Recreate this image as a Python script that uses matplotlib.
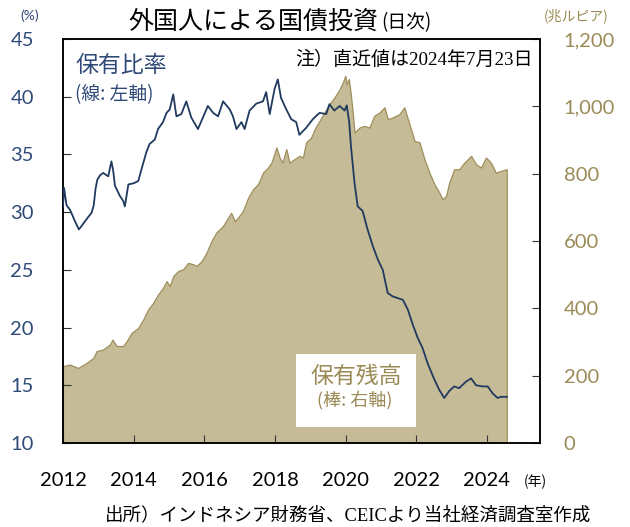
import matplotlib
matplotlib.use("Agg")
import matplotlib.pyplot as plt
from matplotlib.patches import Rectangle

# Foreign holdings of Indonesian government bonds (daily)
# Share of foreign holdings, % (left axis)
ratio_year = [2012.00, 2012.03, 2012.10, 2012.20, 2012.34, 2012.45, 2012.50, 2012.62,
              2012.72, 2012.81, 2012.87, 2012.92, 2012.97, 2013.05, 2013.14, 2013.28,
              2013.37, 2013.42, 2013.47, 2013.61, 2013.70, 2013.75, 2013.85, 2014.00,
              2014.13, 2014.22, 2014.36, 2014.45, 2014.60, 2014.69, 2014.83, 2014.93,
              2015.02, 2015.12, 2015.21, 2015.35, 2015.49, 2015.63, 2015.82, 2015.96,
              2016.10, 2016.25, 2016.39, 2016.53, 2016.72, 2016.81, 2016.91, 2017.05,
              2017.14, 2017.28, 2017.47, 2017.66, 2017.75, 2017.85, 2017.99, 2018.08,
              2018.17, 2018.32, 2018.46, 2018.60, 2018.69, 2018.88, 2019.07, 2019.26,
              2019.45, 2019.54, 2019.68, 2019.83, 2019.97, 2020.03, 2020.10, 2020.15,
              2020.25, 2020.34, 2020.48, 2020.62, 2020.77, 2020.91, 2021.05, 2021.19,
              2021.33, 2021.62, 2021.76, 2021.90, 2022.04, 2022.18, 2022.32, 2022.51,
              2022.65, 2022.79, 2022.93, 2023.07, 2023.21, 2023.40, 2023.55, 2023.69,
              2023.88, 2024.02, 2024.16, 2024.30, 2024.39, 2024.56]
ratio_pct = [30.5, 32.1, 30.6, 30.2, 29.2, 28.5, 28.7, 29.2,
             29.6, 29.95, 30.6, 32.0, 32.8, 33.2, 33.4, 33.1,
             34.4, 33.6, 32.3, 31.4, 31.0, 30.5, 32.4, 32.5,
             32.7, 33.7, 35.2, 35.9, 36.3, 37.2, 37.8, 38.6,
             38.9, 40.2, 38.3, 38.5, 39.6, 38.2, 37.2, 38.2,
             39.2, 38.6, 38.3, 39.6, 38.9, 38.3, 37.2, 37.8,
             37.2, 38.8, 39.4, 39.6, 40.4, 38.5, 40.7, 41.5,
             39.9, 38.9, 38.05, 37.8, 36.7, 37.3, 38.05, 38.6,
             38.5, 39.35, 38.8, 39.2, 38.8, 39.25, 37.8, 35.7,
             32.55, 30.5, 30.1, 28.5, 27.05, 25.9, 25.0, 23.0,
             22.7, 22.4, 21.55, 20.25, 19.1, 18.2, 16.9, 15.5,
             14.6, 13.9, 14.5, 14.9, 14.75, 15.3, 15.6, 15.0,
             14.9, 14.9, 14.3, 13.9, 14.0, 14.0]

# Outstanding foreign holdings, trillion rupiah (right axis)
hold_year = [2012.00, 2012.19, 2012.43, 2012.67, 2012.86, 2012.95, 2013.14, 2013.33,
             2013.40, 2013.52, 2013.70, 2013.80, 2013.94, 2014.13, 2014.27, 2014.41,
             2014.55, 2014.69, 2014.83, 2014.93, 2015.02, 2015.12, 2015.26, 2015.40,
             2015.54, 2015.68, 2015.78, 2015.92, 2016.06, 2016.20, 2016.34, 2016.53,
             2016.67, 2016.76, 2016.86, 2016.95, 2017.09, 2017.24, 2017.38, 2017.52,
             2017.66, 2017.80, 2017.90, 2018.04, 2018.13, 2018.21, 2018.32, 2018.41,
             2018.55, 2018.69, 2018.79, 2018.88, 2019.02, 2019.12, 2019.26, 2019.40,
             2019.54, 2019.68, 2019.83, 2019.92, 2019.99, 2020.03, 2020.09, 2020.15,
             2020.20, 2020.25, 2020.39, 2020.53, 2020.67, 2020.81, 2020.96, 2021.10,
             2021.19, 2021.33, 2021.52, 2021.66, 2021.76, 2021.85, 2021.95, 2022.09,
             2022.23, 2022.37, 2022.51, 2022.65, 2022.74, 2022.84, 2022.93, 2023.07,
             2023.21, 2023.36, 2023.55, 2023.69, 2023.83, 2023.97, 2024.11, 2024.25,
             2024.39, 2024.56]
hold_trn = [228, 233, 223, 238, 253, 273, 278, 293,
            307, 288, 288, 302, 327, 342, 367, 397,
            416, 441, 461, 481, 466, 496, 511, 516,
            535, 531, 526, 540, 565, 600, 625, 645,
            669, 684, 659, 669, 689, 729, 754, 769,
            803, 818, 833, 878, 848, 833, 873, 833,
            843, 853, 848, 893, 907, 932, 957, 982,
            1007, 1026, 1051, 1071, 1091, 1066, 1081, 1031,
            982, 922, 937, 942, 937, 972, 982, 997,
            962, 967, 977, 997, 962, 932, 897, 893,
            843, 803, 769, 744, 724, 734, 773, 813,
            813, 833, 853, 828, 818, 848, 833, 803,
            808, 813]

x_ticks = [2012, 2014, 2016, 2018, 2020, 2022, 2024]
left_ticks = [10, 15, 20, 25, 30, 35, 40, 45]
right_ticks = [0, 200, 400, 600, 800, 1000, 1200]
right_labels = ["0", "200", "400", "600", "800", "1,000", "1,200"]

NAVY = "#213A60"
BLUE_TXT = "#2F4A78"
KHAKI = "#C5BB96"
KHAKI_EDGE = "#9E8F5A"
OLIVE_TXT = "#9A8A55"

CJK = "Noto Sans CJK JP"
NUM = ["Lato", CJK]
SERIF_MIX = ["Liberation Serif", CJK]

W, H = 630, 527
fig = plt.figure(figsize=(W / 100, H / 100), dpi=100)
L, R, T, B = 63, 540, 39, 443
ax = fig.add_axes([L / W, 1 - B / H, (R - L) / W, (B - T) / H])
ax2 = ax.twinx()

# holdings area on the right axis, ratio line on top via the left axis
ax2.fill_between(hold_year, 0, hold_trn, facecolor=KHAKI, edgecolor=KHAKI_EDGE,
                 linewidth=0.9, zorder=1)
ax.plot(ratio_year, ratio_pct, color=NAVY, linewidth=1.3, zorder=3)
ax.set_zorder(ax2.get_zorder() + 1)
ax.patch.set_visible(False)

ax.set_xlim(2012, 2025.5)
ax.set_ylim(10, 45)
ax2.set_ylim(0, 1200)

ax.set_xticks(x_ticks)
ax.set_xticklabels([str(t) for t in x_ticks], fontsize=14.5, family=NUM, color="black")
ax.set_yticks(left_ticks)
ax.set_yticklabels([str(t) for t in left_ticks], fontsize=14.5, family=NUM, color=BLUE_TXT)
ax2.set_yticks(right_ticks)
ax2.set_yticklabels(right_labels, fontsize=14.5, family=NUM, color=OLIVE_TXT)

ax.tick_params(axis="x", direction="in", length=6, width=0.8, pad=21, color="#333333")
ax.tick_params(axis="y", direction="in", length=6, width=0.8, pad=21, color="#333333")
ax2.tick_params(axis="y", direction="in", length=6, width=0.8, pad=17, color="#333333")

for a in (ax, ax2):
    for s in a.spines.values():
        s.set_color("black")
        s.set_linewidth(1.1)

# white label box for the holdings series
box = Rectangle((296 / W, 1 - 427 / H), 120 / W, 73 / H, transform=fig.transFigure,
                facecolor="white", edgecolor="none", zorder=5)
ax.add_artist(box)
box.set_clip_on(False)


def ftext(x, y, s, **kw):
    fig.text(x / W, 1 - y / H, s, **kw)


ftext(128, 22, "外国人による国債投資", fontsize=18, family=CJK, ha="left", va="center")
ftext(381, 23, "(日次)", fontsize=13.5, family=CJK, ha="left", va="center")
ftext(30, 16, "(%)", fontsize=10, family=NUM, color=BLUE_TXT, ha="center", va="center")
ftext(576, 16, "(兆ルピア)", fontsize=10, family=[CJK], color=OLIVE_TXT, ha="center", va="center")
ftext(535, 482, "(年)", fontsize=10, family=[CJK], color="black", ha="center", va="center")

ftext(533, 60, "注）直近値は2024年7月23日", fontsize=13.7, family=SERIF_MIX,
      ha="right", va="center")

ftext(75, 66, "保有比率", fontsize=16.5, family=CJK, color=BLUE_TXT, ha="left", va="center")
ftext(75, 95, "(線: 左軸)", fontsize=13.5, family=CJK, color=BLUE_TXT, ha="left", va="center")

ftext(356, 376, "保有残高", fontsize=16.5, family=CJK, color=OLIVE_TXT, ha="center",
      va="center", zorder=6)
ftext(355, 400, "(棒: 右軸)", fontsize=13, family=CJK, color=OLIVE_TXT, ha="center",
      va="center", zorder=6)

ftext(105, 515, "出所）インドネシア財務省、CEICより当社経済調査室作成", fontsize=13.3,
      family=SERIF_MIX, ha="left", va="center")

fig.savefig("out.png", dpi=100)
